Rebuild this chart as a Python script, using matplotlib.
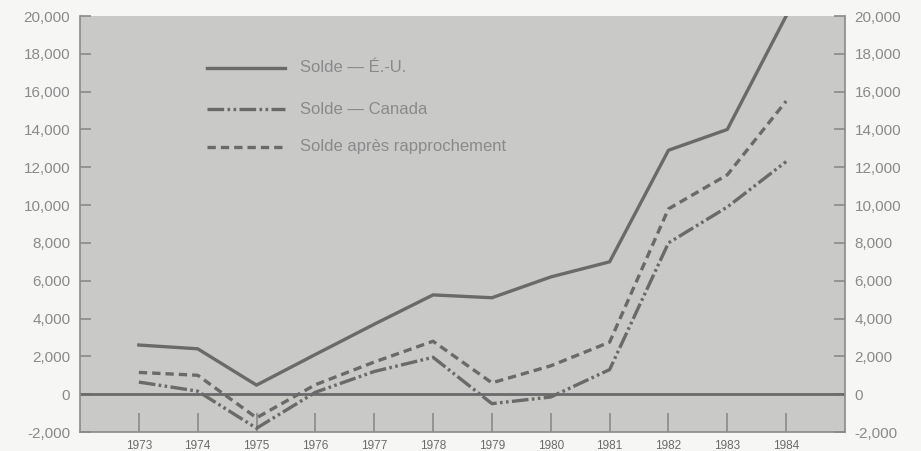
import matplotlib
matplotlib.use("Agg")
import matplotlib.pyplot as plt

years = [1973, 1974, 1975, 1976, 1977, 1978, 1979, 1980, 1981, 1982, 1983, 1984]
solde_eu = [2600, 2400, 480, 2100, 3700, 5250, 5100, 6200, 7000, 12900, 14000, 20000]
solde_canada = [640, 160, -1800, 100, 1200, 1950, -500, -150, 1300, 8000, 9900, 12300]
solde_apres = [1150, 1000, -1250, 500, 1700, 2800, 600, 1500, 2750, 9800, 11600, 15500]
yticks = list(range(-2000, 20001, 2000))
ylabels = [f"{v:,}" for v in yticks]
labels = ["Solde \u2014 \u00c9.-U.", "Solde \u2014 Canada", "Solde apr\u00e8s rapprochement"]

plt.rcParams['font.family'] = ['Liberation Sans', 'DejaVu Sans']
line_c = "#6a6a6a"
text_c = "#8a8a8a"
styles = [dict(linestyle='-'), dict(dashes=(5, 1, 0.8, 1, 0.8, 1)), dict(dashes=(2.5, 1.5))]

fig = plt.figure(figsize=(9.21, 4.51), dpi=100, facecolor="#f6f6f4")
ax = fig.add_axes([80/921, 1-432/451, 765/921, 416/451])
ax.set_facecolor("#c9c9c7")
ax.set_xlim(1972, 1985)
ax.set_ylim(-2000, 20000)

ax.axhline(0, color=line_c, lw=2.0, zorder=2)
series = [solde_eu, solde_canada, solde_apres]
for vals, st in zip(series, styles):
    ax.plot(years, vals, color=line_c, lw=2.4, zorder=3, **st)

ax.spines["top"].set_visible(False)
for s in ["left", "right", "bottom"]:
    ax.spines[s].set_color("#8a8a8a")
    ax.spines[s].set_linewidth(1.2)

ax.set_yticks(yticks)
ax.set_yticklabels(ylabels)
ax.tick_params(axis='y', direction='in', length=8, width=1.2, color="#8a8a8a",
               labelsize=11, labelcolor=text_c, left=True, right=True,
               labelleft=True, labelright=True, pad=7)
ax.set_xticks(years)
ax.set_xticklabels([str(y) for y in years])
ax.tick_params(axis='x', direction='in', length=14, width=1.2, color="#8a8a8a",
               labelsize=8.5, labelcolor="#6a6a6a", pad=6)

# legend (manual, drawn in axes coordinates)
row_y = [1-(68-16)/416, 1-(109-16)/416, 1-(147-16)/416]
for lab, yy, st in zip(labels, row_y, styles):
    ax.plot([(207-80)/765, (285-80)/765], [yy, yy], transform=ax.transAxes,
            color=line_c, lw=2.4, **st)
    ax.text((300-80)/765, yy, lab, transform=ax.transAxes, fontsize=12,
            color=text_c, va='center', ha='left')

fig.savefig("out.png", dpi=100, facecolor=fig.get_facecolor())
